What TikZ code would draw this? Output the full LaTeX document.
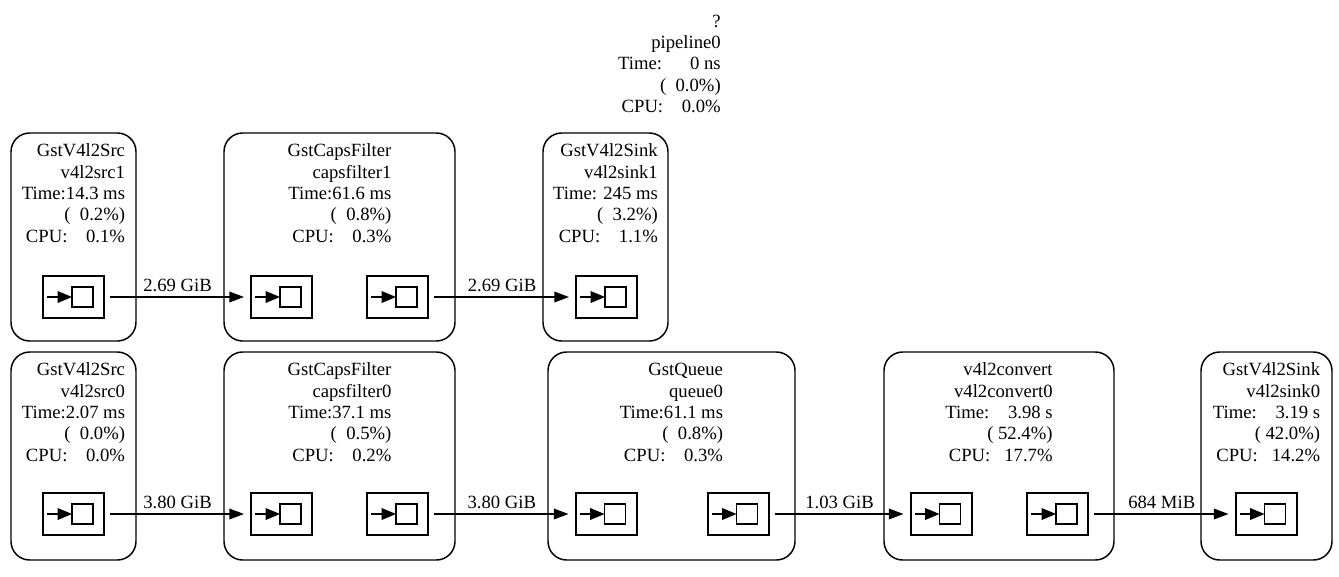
\documentclass[tikz,border=0pt]{standalone}
\usepackage{fontspec}
\setmainfont{Liberation Serif}
\usetikzlibrary{arrows.meta}

\begin{document}
\begin{tikzpicture}[
    x=0.75pt, y=-0.75pt,
    font=\fontsize{14}{16.1}\selectfont,
    element/.style={draw, line width=1.1pt, rounded corners=14pt, inner sep=0pt, minimum height=156pt},
    info/.style={anchor=north, align=right, inner sep=0pt},
    pad/.style={draw, line width=1.5pt, inner sep=0pt, minimum width=45.75pt, minimum height=31.5pt,
        path picture={
            \draw[line width=1pt] ([xshift=3pt]path picture bounding box.west)
                -- ([xshift=12pt]path picture bounding box.west);
            \fill ([xshift=11pt, yshift=-4.5pt]path picture bounding box.west)
                -- ([xshift=21.75pt]path picture bounding box.west)
                -- ([xshift=11pt, yshift=4.5pt]path picture bounding box.west) -- cycle;
            \draw[line width=1pt] ([xshift=21.75pt, yshift=-7.5pt]path picture bounding box.west)
                rectangle ([xshift=37.5pt, yshift=7.5pt]path picture bounding box.west);
        }},
    flow/.style={-{Triangle[length=11pt, width=8pt]}, line width=1pt, shorten <=3.75pt, shorten >=4.5pt},
    rate/.style={midway, above=3.5pt, inner sep=0pt}
]
\useasboundingbox (0,0) rectangle (1339,576);
\def\rowA{237}
\def\rowB{456}

% Pipeline summary, no frame around it.
\node[info, anchor=north east] (pipeline0-info) at (721,13.4)
    {\rule{0pt}{10pt}?\\pipeline0\\Time:~~~~~~0 ns\\(~~0.0\%)\\CPU:~~~~0.0\%};

% Upper branch.
\node[element, minimum width=93.75pt] (v4l2src1) at (73.5,\rowA) {};
\node[element, minimum width=173.25pt] (capsfilter1) at (339.5,\rowA) {};
\node[element, minimum width=93.75pt] (v4l2sink1) at (605.5,\rowA) {};
\node[info] (v4l2src1-info) at ([yshift=-8pt]v4l2src1.north)
    {\rule{0pt}{10pt}GstV4l2Src\\v4l2src1\\Time:14.3 ms\\(~~0.2\%)\\CPU:~~~~0.1\%};
\node[info] (capsfilter1-info) at ([yshift=-8pt]capsfilter1.north)
    {\rule{0pt}{10pt}GstCapsFilter\\capsfilter1\\Time:61.6 ms\\(~~0.8\%)\\CPU:~~~~0.3\%};
\node[info] (v4l2sink1-info) at ([yshift=-8pt]v4l2sink1.north)
    {\rule{0pt}{10pt}GstV4l2Sink\\v4l2sink1\\Time: 245 ms\\(~~3.2\%)\\CPU:~~~~1.1\%};

% Lower branch.
\node[element, minimum width=93.75pt] (v4l2src0) at (73.5,\rowB) {};
\node[element, minimum width=173.25pt] (capsfilter0) at (339.5,\rowB) {};
\node[element, minimum width=185.25pt] (queue0) at (671.5,\rowB) {};
\node[element, minimum width=172.5pt] (v4l2convert0) at (999,\rowB) {};
\node[element, minimum width=98.25pt] (v4l2sink0) at (1266.5,\rowB) {};
\node[info] (v4l2src0-info) at ([yshift=-8pt]v4l2src0.north)
    {\rule{0pt}{10pt}GstV4l2Src\\v4l2src0\\Time:2.07 ms\\(~~0.0\%)\\CPU:~~~~0.0\%};
\node[info] (capsfilter0-info) at ([yshift=-8pt]capsfilter0.north)
    {\rule{0pt}{10pt}GstCapsFilter\\capsfilter0\\Time:37.1 ms\\(~~0.5\%)\\CPU:~~~~0.2\%};
\node[info] (queue0-info) at ([yshift=-8pt]queue0.north)
    {\rule{0pt}{10pt}GstQueue\\queue0\\Time:61.1 ms\\(~~0.8\%)\\CPU:~~~~0.3\%};
\node[info] (v4l2convert0-info) at ([yshift=-8pt]v4l2convert0.north)
    {\rule{0pt}{10pt}v4l2convert\\v4l2convert0\\Time:~~~~3.98 s\\(~52.4\%)\\CPU:~~~17.7\%};
\node[info] (v4l2sink0-info) at ([yshift=-8pt]v4l2sink0.north)
    {\rule{0pt}{10pt}GstV4l2Sink\\v4l2sink0\\Time:~~~~3.19 s\\(~42.0\%)\\CPU:~~~14.2\%};

% Pads.
\foreach \name/\x/\y in {v4l2src1-src/73.5/297, capsfilter1-sink/281.5/297, capsfilter1-src/397.5/297,
    v4l2sink1-sink/606.5/297, v4l2src0-src/73.5/514, capsfilter0-sink/281.5/514,
    capsfilter0-src/397.5/514, queue0-sink/606/514, queue0-src/738/514,
    v4l2convert0-sink/941/514, v4l2convert0-src/1057.5/514, v4l2sink0-sink/1266/514} {
    \node[pad] (\name) at (\x,\y) {};
}

% Links with transferred bytes.
\draw[flow] (v4l2src1-src) -- node[rate] {2.69 GiB} (capsfilter1-sink);
\draw[flow] (capsfilter1-src) -- node[rate] {2.69 GiB} (v4l2sink1-sink);
\draw[flow] (v4l2src0-src) -- node[rate] {3.80 GiB} (capsfilter0-sink);
\draw[flow] (capsfilter0-src) -- node[rate] {3.80 GiB} (queue0-sink);
\draw[flow] (queue0-src) -- node[rate] {1.03 GiB} (v4l2convert0-sink);
\draw[flow] (v4l2convert0-src) -- node[rate] {684 MiB} (v4l2sink0-sink);
\end{tikzpicture}
\end{document}
